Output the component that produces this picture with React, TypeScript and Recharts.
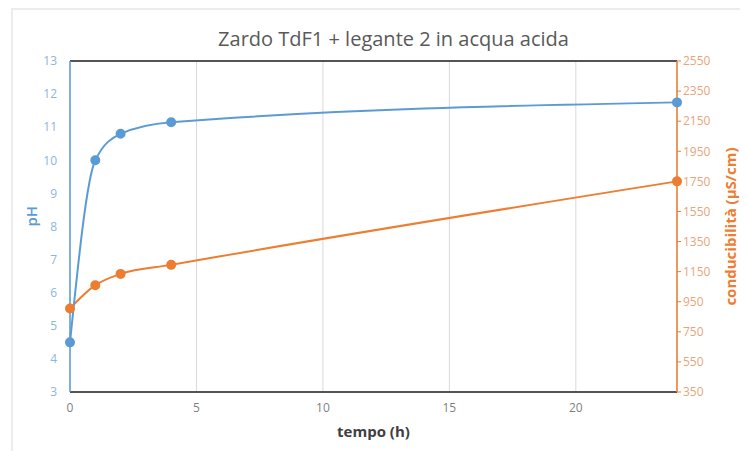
import { LineChart, Line, XAxis, YAxis, CartesianGrid, ReferenceLine } from "recharts";

// tempo (h) of each measurement
const tempo = [0, 1, 2, 4, 24];
const ph = [4.5, 10.0, 10.8, 11.15, 11.75];
const conducibilita = [905, 1060, 1135, 1195, 1750];

const xTicks = [0, 5, 10, 15, 20];
const phTicks = [3, 4, 5, 6, 7, 8, 9, 10, 11, 12, 13];
const condTicks = [350, 550, 750, 950, 1150, 1350, 1550, 1750, 1950, 2150, 2350, 2550];

const data = tempo.map((t, i) => ({ t, ph: ph[i], cond: conducibilita[i] }));

const BLUE = "#5b9bd5";
const ORANGE = "#ed7d31";
const FONT = "'Open Sans', 'Noto Sans', sans-serif";

const App = () => {
  return (
    <div style={{ position: "relative", width: 740, height: 443, fontFamily: FONT }}>
      {/* faint outer frame of the chart area */}
      <div
        style={{
          position: "absolute",
          left: 3,
          top: 0,
          width: 737,
          height: 443,
          borderTop: "2px solid #ececec",
          borderLeft: "2px solid #ececec",
        }}
      />
      <div
        style={{
          position: "absolute",
          top: 17,
          left: 0,
          width: 771,
          textAlign: "center",
          fontSize: 20,
          color: "#595959",
        }}
      >
        Zardo TdF1 + legante 2 in acqua acida
      </div>
      <div style={{ position: "absolute", left: 0, top: 0 }}>
        <LineChart width={740} height={443} data={data} margin={{ top: 53, right: 0, left: 0, bottom: 0 }}>
          <CartesianGrid stroke="#d9d9d9" strokeWidth={1} />
          <XAxis
            dataKey="t"
            type="number"
            domain={[0, 24]}
            ticks={xTicks}
            interval={0}
            height={59}
            tickLine={false}
            axisLine={{ stroke: "#222", strokeWidth: 1.5 }}
            tick={{ fill: "#7f7f7f", fontSize: 12, dy: 3 }}
            label={{ value: "tempo (h)", position: "insideBottom", offset: 14, fill: "#404040", fontSize: 15, fontWeight: 700 }}
          />
          <YAxis
            yAxisId="ph"
            domain={[3, 13]}
            ticks={phTicks}
            interval={0}
            width={62}
            tickLine={false}
            axisLine={{ stroke: BLUE, strokeWidth: 1.5 }}
            tick={{ fill: "#8fb4dc", fontSize: 12, dx: -5 }}
            label={{ value: "pH", angle: -90, position: "insideLeft", offset: 24, fill: BLUE, fontSize: 15, fontWeight: 600 }}
          />
          <YAxis
            yAxisId="cond"
            orientation="right"
            domain={[350, 2550]}
            ticks={condTicks}
            interval={0}
            width={71}
            tickSize={4}
            tickLine={{ stroke: ORANGE }}
            axisLine={{ stroke: ORANGE, strokeWidth: 1.5 }}
            tick={{ fill: "#e8a57a", fontSize: 12 }}
            label={{
              value: "conducibilità (µS/cm)",
              angle: -90,
              position: "insideRight",
              offset: 17,
              fill: ORANGE,
              fontSize: 15,
              fontWeight: 700,
              style: { textAnchor: "middle" },
            }}
          />
          <ReferenceLine yAxisId="ph" y={13} stroke="#222" strokeWidth={1.5} />
          <Line
            yAxisId="cond"
            dataKey="cond"
            type="monotone"
            stroke={ORANGE}
            strokeWidth={2}
            dot={{ r: 4, fill: ORANGE, stroke: ORANGE }}
            isAnimationActive={false}
          />
          <Line
            yAxisId="ph"
            dataKey="ph"
            type="monotone"
            stroke={BLUE}
            strokeWidth={2}
            dot={{ r: 4, fill: BLUE, stroke: BLUE }}
            isAnimationActive={false}
          />
        </LineChart>
      </div>
    </div>
  );
};

export default App;
